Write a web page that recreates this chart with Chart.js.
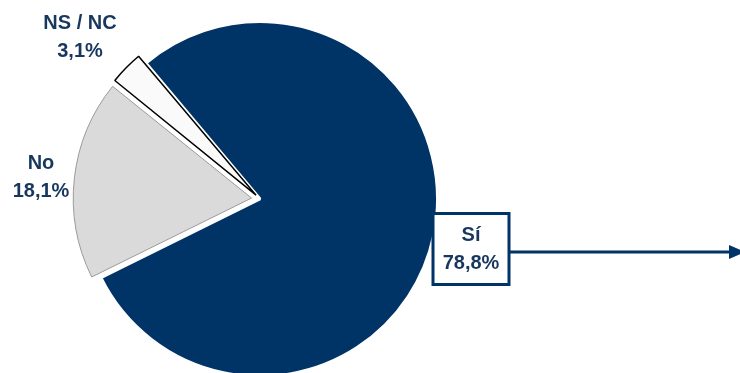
<!DOCTYPE html>
<html>
<head>
<meta charset="utf-8">
<script src="https://cdn.jsdelivr.net/npm/chart.js@4/dist/chart.umd.min.js"></script>
<style>
    html, body { margin: 0; padding: 0; background: #ffffff; }
    #wrap { width: 740px; height: 373px; }
</style>
</head>
<body>
<div id="wrap"><canvas id="chartPie" width="740" height="373"></canvas></div>
<script>
// Datos del gráfico
const categorias = ['Sí', 'No', 'NS / NC'];
const porcentajes = [78.8, 18.1, 3.1];

// Colores de cada porción
const colores = ['#003366', '#DADADA', '#FAFAFA'];
const bordes = ['#FFFFFF', '#9A9A9A', '#000000'];
const colorTexto = '#17375E';

// Posición de cada etiqueta respecto al centro de la tarta
const etiquetasDelta = [[211, 50], [-219, -22], [-180, -162]];

function formato(v) {
    return v.toFixed(1).replace('.', ',') + '%';
}

const pluginEtiquetas = {
    id: 'etiquetas',
    afterDraw(chart) {
        const ctx = chart.ctx;
        const arcs = chart.getDatasetMeta(0).data;
        const cx = arcs[0].x, cy = arcs[0].y;

        ctx.save();
        ctx.font = 'bold 20px "Liberation Sans", Arial, sans-serif';
        ctx.textAlign = 'center';
        ctx.textBaseline = 'middle';

        categorias.forEach((cat, i) => {
            const x = cx + etiquetasDelta[i][0];
            const y = cy + etiquetasDelta[i][1];

            if (i === 0) {
                // caja blanca con borde + flecha hacia la derecha
                const w = 76, h = 71;
                ctx.fillStyle = '#ffffff';
                ctx.fillRect(x - w / 2, y - h / 2, w, h);
                ctx.strokeStyle = '#003366';
                ctx.lineWidth = 3;
                ctx.strokeRect(x - w / 2, y - h / 2, w, h);

                ctx.beginPath();
                ctx.moveTo(x + w / 2, y + 3);
                ctx.lineTo(732, y + 3);
                ctx.stroke();
                ctx.fillStyle = '#003366';
                ctx.beginPath();
                ctx.moveTo(729, y + 3 - 7);
                ctx.lineTo(745, y + 3);
                ctx.lineTo(729, y + 3 + 7);
                ctx.closePath();
                ctx.fill();
            }

            ctx.fillStyle = colorTexto;
            ctx.fillText(cat, x, y - 14);
            ctx.fillText(formato(porcentajes[i]), x, y + 14);
        });
        ctx.restore();
    }
};

new Chart(document.getElementById('chartPie').getContext('2d'), {
    type: 'pie',
    data: {
        labels: categorias,
        datasets: [{
            data: porcentajes,
            backgroundColor: colores,
            borderColor: bordes,
            borderWidth: [3, 1, 1.5],
            // Chart.js divide el offset entre 4 al desplazar la porción
            offset: [0, 34, 22]
        }]
    },
    options: {
        responsive: false,
        animation: false,
        rotation: -40,
        radius: 177.5,
        layout: { padding: { left: 2, right: 222, top: 25, bottom: 0 } },
        plugins: {
            legend: { display: false },
            tooltip: { enabled: false }
        }
    },
    plugins: [pluginEtiquetas]
});
</script>
</body>
</html>
